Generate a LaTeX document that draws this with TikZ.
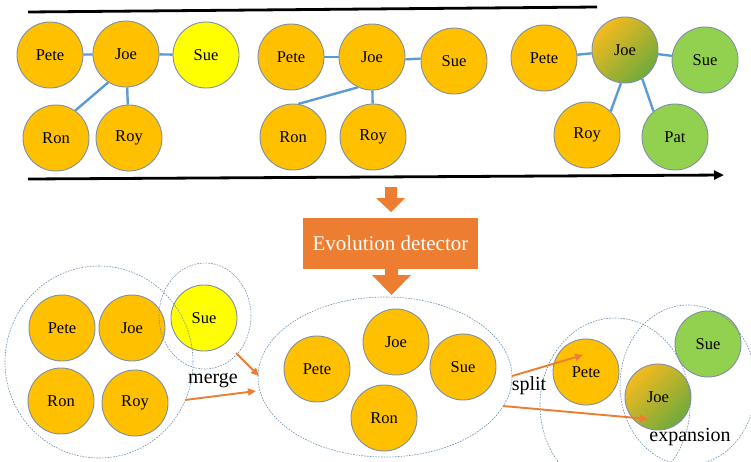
\documentclass[tikz,border=0pt]{standalone}
\usepackage{fontspec}
\setmainfont{Liberation Serif}
\usetikzlibrary{arrows.meta,shapes.geometric}
\definecolor{goldc}{HTML}{FFC000}
\definecolor{yellowc}{HTML}{FFFF00}
\definecolor{greenc}{HTML}{92D050}
\definecolor{rimc}{HTML}{7F8FA6}
\definecolor{linkc}{HTML}{5B9BD5}
\definecolor{orangec}{HTML}{ED7D31}
\definecolor{dashc}{HTML}{6A8DB3}
\definecolor{mixa}{HTML}{F5BA1E}
\definecolor{mixb}{HTML}{6FAA3C}
\begin{document}
\begin{tikzpicture}[x=1pt,y=-1pt,
  person/.style={circle, minimum size=66pt, inner sep=0pt, draw=rimc, line width=0.9pt, fill=goldc, font=\rmfamily\fontsize{16.5}{18}\selectfont},
  yel/.style={person, fill=yellowc},
  grn/.style={person, fill=greenc},
  mix/.style={person, top color=mixa, bottom color=mixb, shading angle=45},
  link/.style={draw=linkc, line width=2.4pt},
  grp/.style={draw=dashc, line width=0.6pt, dash pattern=on 1.6pt off 1.2pt},
  evo/.style={-{Triangle[length=8pt,width=7pt]}, draw=orangec, line width=1.9pt},
  lbl/.style={font=\rmfamily\fontsize{20}{22}\selectfont, inner sep=0pt},
  timeline/.style={draw=black, line width=2.8pt}
]
\useasboundingbox (0,0) rectangle (751,461);

% timeline
\coordinate (tl1) at (28,12);
\coordinate (tl2) at (597,7);
\coordinate (ta1) at (28,179);
\coordinate (ta2) at (724,175);
\draw[timeline] (tl1) -- (tl2);
\draw[timeline, -{Triangle[length=10pt,width=9pt]}] (ta1) -- (ta2);

% panel 1
\node[person] (p1) at (50,55) {Pete};
\node[person] (j1) at (126,54) {Joe};
\node[yel]    (s1) at (206,55) {Sue};
\node[person] (n1) at (56,138) {Ron};
\node[person] (y1) at (129,138) {Roy};
\draw[link] (p1) -- (j1);
\draw[link] (j1) -- (s1);
\draw[link] (j1.238) -- (n1.55);
\draw[link] (j1) -- (y1);

% panel 2
\node[person] (p2) at (291,57) {Pete};
\node[person] (j2) at (372,57) {Joe};
\node[person] (s2) at (454,61) {Sue};
\node[person] (n2) at (293,137) {Ron};
\node[person] (y2) at (373,137) {Roy};
\draw[link] (p2) -- (j2);
\draw[link] (j2.356) -- (s2.176);
\draw[link] (j2.245) -- (n2.81);
\draw[link] (j2) -- (y2);

% panel 3
\node[person] (p3) at (544,58) {Pete};
\node[mix]    (j3) at (625,50) {Joe};
\node[grn]    (s3) at (705,60) {Sue};
\node[person] (y3) at (587,135) {Roy};
\node[grn]    (a3) at (675,137) {Pat};
\draw[link] (p3) -- (j3);
\draw[link] (j3) -- (s3);
\draw[link] (j3.263) -- (y3.45);
\draw[link] (j3.301) -- (a3.130);

% evolution detector
\node[fill=orangec, text=white, minimum width=175pt, minimum height=51pt, inner sep=0pt,
      font=\rmfamily\fontsize{21}{24}\selectfont] (ev) at (390.5,243.5) {Evolution detector};
\fill[orangec] (385,187) -- (397,187) -- (397,198) -- (405,198) -- (391,212) -- (376,198) -- (385,198) -- cycle;
\fill[orangec] (385,269) -- (398,269) -- (398,275) -- (411,275) -- (391.5,295) -- (372,275) -- (385,275) -- cycle;

% bottom left group
\node[person] (bp1) at (62,328) {Pete};
\node[person] (bj1) at (132,328) {Joe};
\node[person] (bn1) at (61,401) {Ron};
\node[person] (by1) at (135,403) {Roy};
\node[yel]    (bs1) at (204,318) {Sue};
\draw[grp] (99,362) ellipse [x radius=94pt, y radius=96pt];
\draw[grp] (205,316) ellipse [x radius=46pt, y radius=53pt];

% middle group
\node[person] (bp2) at (317,369) {Pete};
\node[person] (bj2) at (396,342) {Joe};
\node[person] (bs2) at (463,367) {Sue};
\node[person] (bn2) at (384,418) {Ron};
\draw[grp] (385,377) ellipse [x radius=127pt, y radius=80pt];

% right group
\node[person] (bp3) at (586,372) {Pete};
\node[grn]    (bs3) at (708,344) {Sue};
\node[mix]    (bj3) at (658,397) {Joe};
\draw[grp] (615,405) ellipse [x radius=75pt, y radius=87pt];
\draw[grp] (688,385) ellipse [x radius=68pt, y radius=80pt];

% merge / split arrows
\coordinate (m1a) at (236,353);
\coordinate (m1b) at (259,376);
\coordinate (m2a) at (185,400);
\coordinate (m2b) at (256,391);
\coordinate (s1a) at (512,376);
\coordinate (s2a) at (503,406);
\coordinate (s1b) at (583,355);
\coordinate (s2b) at (648,419);
\draw[evo] (m1a) -- (m1b);
\draw[evo] (m2a) -- (m2b);
\draw[evo] (s1a) -- (s1b);
\draw[evo] (s2a) -- (s2b);

\node[lbl] (lm) at (213,381) {merge};
\node[lbl] (ls) at (529,386) {split};
\node[lbl] (lx) at (690,437) {expansion};
\end{tikzpicture}
\end{document}
